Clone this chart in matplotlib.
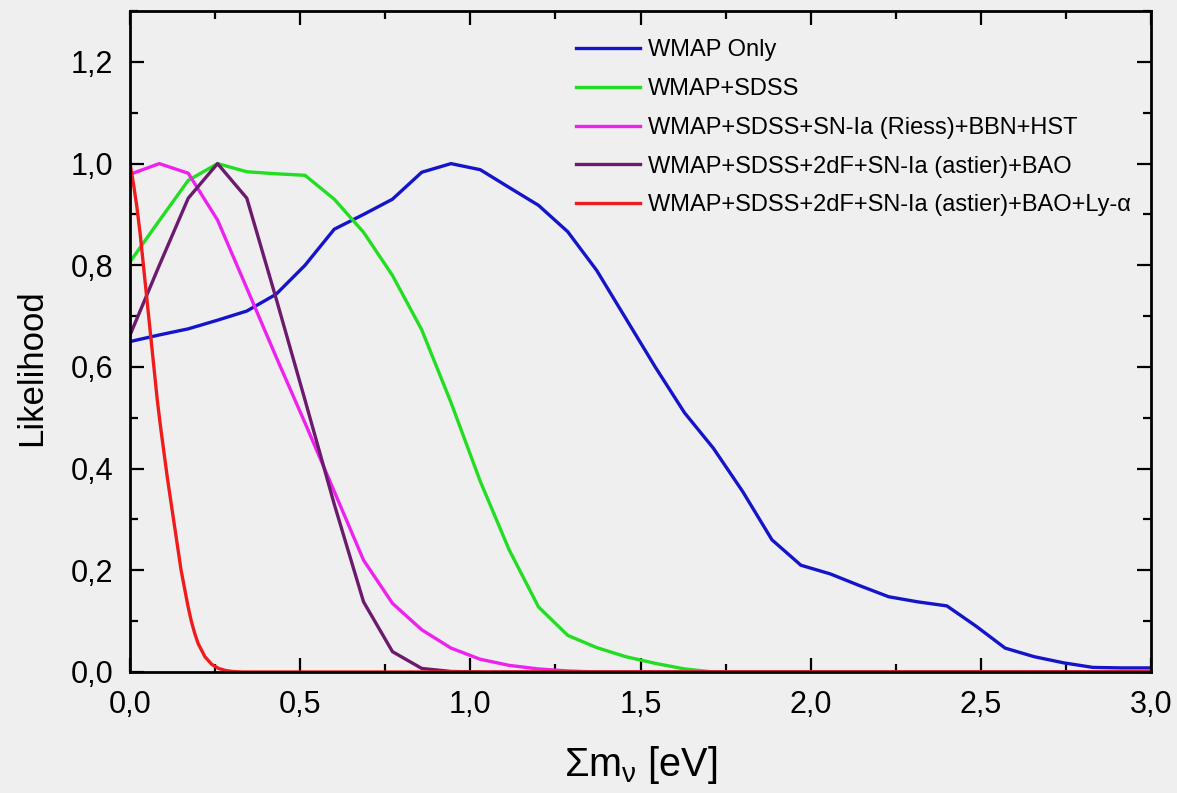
import matplotlib
matplotlib.use("Agg")
import matplotlib.pyplot as plt
from matplotlib.ticker import MultipleLocator, FuncFormatter

plt.rcParams['font.family'] = ['Liberation Sans', 'DejaVu Sans']
plt.rcParams['mathtext.fontset'] = 'custom'
plt.rcParams['mathtext.rm'] = 'Liberation Sans'
plt.rcParams['mathtext.it'] = 'Liberation Sans:italic'

# common mass grid (eV) for the sampled likelihood curves
x_grid = [0.0, 0.086, 0.171, 0.257, 0.343, 0.429, 0.514, 0.6, 0.686, 0.771,
          0.857, 0.943, 1.029, 1.114, 1.2, 1.286, 1.371, 1.457, 1.543, 1.629,
          1.714, 1.8, 1.886, 1.971, 2.057, 2.143, 2.229, 2.314, 2.4, 2.486,
          2.571, 2.657, 2.743, 2.829, 2.914, 3.0]

wmap_only = [0.65, 0.663, 0.675, 0.692, 0.71, 0.743, 0.80, 0.871, 0.90, 0.93,
             0.983, 1.0, 0.988, 0.953, 0.918, 0.866, 0.79, 0.695, 0.60, 0.51,
             0.44, 0.355, 0.26, 0.21, 0.193, 0.17, 0.148, 0.138, 0.13, 0.09,
             0.047, 0.03, 0.018, 0.009, 0.008, 0.008]

wmap_sdss = [0.807, 0.888, 0.967, 1.0, 0.984, 0.98, 0.977, 0.93, 0.865, 0.78,
             0.673, 0.53, 0.375, 0.24, 0.128, 0.072, 0.048, 0.03, 0.017, 0.006,
             0.0, 0.0, 0.0, 0.0, 0.0, 0.0, 0.0, 0.0, 0.0, 0.0,
             0.0, 0.0, 0.0, 0.0, 0.0, 0.0]

wmap_sdss_riess = [0.979, 1.0, 0.981, 0.889, 0.755, 0.62, 0.49, 0.355, 0.22, 0.135,
                   0.083, 0.047, 0.025, 0.013, 0.006, 0.002, 0.0, 0.0, 0.0, 0.0,
                   0.0, 0.0, 0.0, 0.0, 0.0, 0.0, 0.0, 0.0, 0.0, 0.0,
                   0.0, 0.0, 0.0, 0.0, 0.0, 0.0]

wmap_sdss_2df_bao = [0.663, 0.80, 0.932, 1.0, 0.932, 0.735, 0.535, 0.33, 0.138, 0.04,
                     0.007, 0.001, 0.0, 0.0, 0.0, 0.0, 0.0, 0.0, 0.0, 0.0,
                     0.0, 0.0, 0.0, 0.0, 0.0, 0.0, 0.0, 0.0, 0.0, 0.0,
                     0.0, 0.0, 0.0, 0.0, 0.0, 0.0]

x_lya = [0.0, 0.01, 0.02, 0.03, 0.04, 0.05, 0.06, 0.07, 0.08, 0.09, 0.10,
         0.11, 0.12, 0.13, 0.14, 0.15, 0.16, 0.17, 0.18, 0.19, 0.20, 0.22,
         0.24, 0.26, 0.28, 0.30, 0.33, 3.0]
wmap_lya = [1.0, 0.96, 0.915, 0.86, 0.795, 0.73, 0.665, 0.6, 0.535, 0.48, 0.43,
            0.38, 0.335, 0.29, 0.245, 0.2, 0.165, 0.13, 0.1, 0.076, 0.056, 0.03,
            0.015, 0.007, 0.003, 0.001, 0.0, 0.0]

labels = ["WMAP Only",
          "WMAP+SDSS",
          "WMAP+SDSS+SN-Ia (Riess)+BBN+HST",
          "WMAP+SDSS+2dF+SN-Ia (astier)+BAO",
          "WMAP+SDSS+2dF+SN-Ia (astier)+BAO+Ly-\u03b1"]
colors = ["#1414c8", "#22dd22", "#ee22ee", "#6b1a6e", "#ee1c1c"]

bg = "#efefef"
fig = plt.figure(figsize=(11.77, 7.93), dpi=100, facecolor=bg)
ax = fig.add_axes([0.1105, 0.1526, 0.8675, 0.8334], facecolor=bg)

series = [(x_grid, wmap_only), (x_grid, wmap_sdss), (x_grid, wmap_sdss_riess),
          (x_grid, wmap_sdss_2df_bao), (x_lya, wmap_lya)]
for (xs, ys), lab, col in zip(series, labels, colors):
    ax.plot(xs, ys, color=col, lw=2.4, label=lab, solid_joinstyle='round')

ax.set_xlim(0, 3.0)
ax.set_ylim(0, 1.3)
ax.xaxis.set_major_locator(MultipleLocator(0.5))
ax.xaxis.set_minor_locator(MultipleLocator(0.25))
ax.yaxis.set_major_locator(MultipleLocator(0.2))
ax.yaxis.set_minor_locator(MultipleLocator(0.1))
ax.xaxis.set_major_formatter(FuncFormatter(lambda v, p: f"{v:.1f}".replace('.', ',')))
ax.yaxis.set_major_formatter(FuncFormatter(lambda v, p: f"{v:.1f}".replace('.', ',')))

for s in ax.spines.values():
    s.set_linewidth(2.0)
ax.tick_params(which='both', direction='in', top=True, right=True, width=1.6, colors='black')
ax.tick_params(which='major', length=10, labelsize=22)
ax.tick_params(axis='x', which='major', pad=13)
ax.tick_params(axis='y', which='major', pad=12)
ax.tick_params(which='minor', length=6)

ax.set_ylabel("Likelihood", fontsize=25, labelpad=16)
ax.yaxis.label.set_y(0.46)
ax.set_xlabel(r"$\mathregular{\Sigma m_{\nu}}$ [eV]", fontsize=28.5, labelpad=17)

leg = ax.legend(loc='upper left', bbox_to_anchor=(0.425, 0.975), frameon=False,
                fontsize=17, handlelength=2.7, handletextpad=0.35,
                labelspacing=0.71, borderpad=0)
for l in leg.get_lines():
    l.set_linewidth(2.4)

fig.savefig("out.png", dpi=100, facecolor=bg)
